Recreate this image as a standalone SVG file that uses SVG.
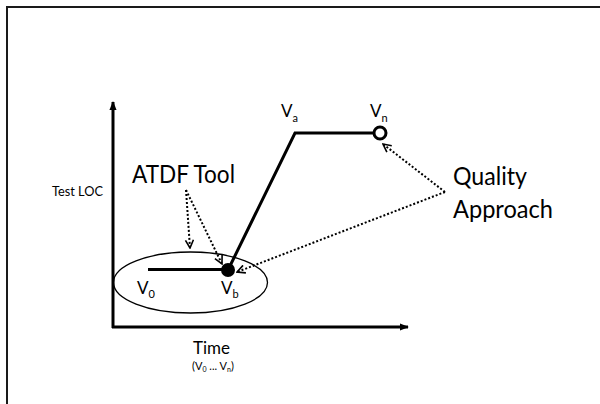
<svg xmlns="http://www.w3.org/2000/svg" width="600" height="404" viewBox="0 0 600 404">
<style>
.t{font-family:Lato,"Liberation Sans",sans-serif;fill:#000}
.big{font-size:25px}
.v{font-size:17px}
.sub{font-size:11px}
.dot{fill:none;stroke:#000;stroke-width:2;stroke-dasharray:2 2}
.solid{fill:none;stroke:#000;stroke-width:3}
</style>
<defs>
<marker id="open" viewBox="0 0 10 10" refX="9" refY="5" markerWidth="10" markerHeight="10" markerUnits="userSpaceOnUse" orient="auto">
<path d="M1,1 L9,5 L1,9" fill="none" stroke="#000" stroke-width="1.6"/>
</marker>
<marker id="solidarrow" viewBox="0 0 10 10" refX="9" refY="5" markerWidth="9" markerHeight="9" markerUnits="userSpaceOnUse" orient="auto">
<path d="M0,1 L10,5 L0,9 Z" fill="#000"/>
</marker>
</defs>
<rect width="600" height="404" fill="#fff"/>
<rect x="7" y="7" width="620" height="420" fill="none" stroke="#1a1a1a" stroke-width="2"/>

<g id="axes">
<line x1="113" y1="328" x2="113" y2="102" class="solid" marker-end="url(#solidarrow)"/>
<line x1="112" y1="327" x2="408" y2="327" class="solid" marker-end="url(#solidarrow)"/>
<text class="t" x="52" y="196" font-size="14" textLength="51" lengthAdjust="spacingAndGlyphs">Test LOC</text>
<text class="t" x="193" y="354" font-size="17">Time</text>
<text class="t" x="192" y="370" font-size="11">(V<tspan font-size="7" dy="2">0</tspan><tspan dy="-2"> ... V</tspan><tspan font-size="7" dy="2">n</tspan><tspan dy="-2">)</tspan></text>
</g>

<g id="ellipse-region">
<ellipse cx="190.5" cy="282.5" rx="77" ry="30.5" fill="none" stroke="#000" stroke-width="1.3"/>
</g>

<g id="connectors">
<polyline points="148,269.5 228,269.5" class="solid"/>
<polyline points="228,270 295,133 374,133" class="solid"/>
<line x1="186" y1="190" x2="190" y2="248" class="dot" marker-end="url(#open)"/>
<line x1="186" y1="190" x2="222" y2="264" class="dot" marker-end="url(#open)"/>
<line x1="445" y1="192" x2="383" y2="144" class="dot" marker-end="url(#open)"/>
<line x1="445" y1="192" x2="237" y2="272" class="dot" marker-end="url(#open)"/>
</g>

<g id="node-v0">
<text class="t v" x="137" y="294">V<tspan class="sub" dy="4">0</tspan></text>
</g>
<g id="node-vb">
<circle cx="228" cy="270" r="7" fill="#000"/>
<text class="t v" x="221" y="294">V<tspan class="sub" dy="4">b</tspan></text>
</g>
<g id="node-va">
<text class="t v" x="281" y="117">V<tspan class="sub" dy="5">a</tspan></text>
</g>
<g id="node-vn">
<circle cx="380" cy="133" r="6" fill="#fff" stroke="#000" stroke-width="3"/>
<text class="t v" x="370" y="117">V<tspan class="sub" dy="5">n</tspan></text>
</g>
<g id="node-atdf">
<text class="t big" x="132" y="183" textLength="103" lengthAdjust="spacingAndGlyphs">ATDF Tool</text>
</g>
<g id="node-quality">
<text class="t big" x="453" y="185" textLength="74" lengthAdjust="spacingAndGlyphs">Quality</text>
<text class="t big" x="453" y="218" textLength="100" lengthAdjust="spacingAndGlyphs">Approach</text>
</g>
</svg>
